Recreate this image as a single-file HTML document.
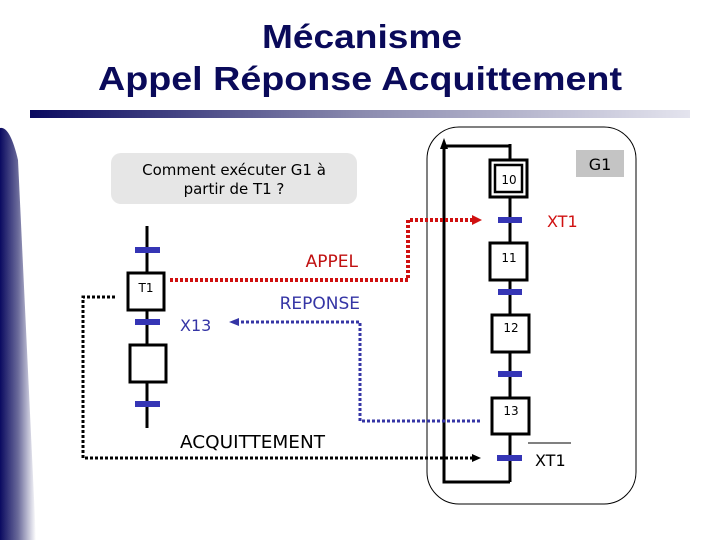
<!DOCTYPE html>
<html><head><meta charset="utf-8"><style>
body{margin:0;background:#fff}
svg{display:block}
text{font-family:"DejaVu Sans","Liberation Sans",sans-serif}
</style></head><body>
<svg width="720" height="540" viewBox="0 0 720 540" xmlns="http://www.w3.org/2000/svg">
<defs>
<linearGradient id="bar" x1="0" x2="1" y1="0" y2="0"><stop offset="0" stop-color="#0a0a60"/><stop offset="0.5" stop-color="#8a8aae"/><stop offset="1" stop-color="#e4e4ee"/></linearGradient>
<linearGradient id="side" x1="0" x2="1" y1="0" y2="0"><stop offset="0" stop-color="#0a0a60"/><stop offset="0.5" stop-color="#6a6a9a"/><stop offset="1" stop-color="#ffffff"/></linearGradient>
</defs>
<rect width="720" height="540" fill="#fff"/>
<text x="362" y="48" text-anchor="middle" font-size="33" font-weight="bold" fill="#0a0a5a" style="font-family:'Liberation Sans',sans-serif" textLength="200" lengthAdjust="spacingAndGlyphs">Mécanisme</text>
<text x="360" y="90" text-anchor="middle" font-size="33" font-weight="bold" fill="#0a0a5a" style="font-family:'Liberation Sans',sans-serif" textLength="524" lengthAdjust="spacingAndGlyphs">Appel Réponse Acquittement</text>
<rect x="30" y="110" width="660" height="8" fill="url(#bar)"/>
<path d="M0 128 Q10 126 18 160 L36 540 L0 540 Z" fill="url(#side)"/>
<rect x="111" y="153" width="246" height="51" rx="10" fill="#e6e6e6"/>
<text x="234" y="175" text-anchor="middle" font-size="15" fill="#000">Comment exécuter G1 à</text>
<text x="234" y="194" text-anchor="middle" font-size="15" fill="#000">partir de T1 ?</text>
<line x1="147" y1="226" x2="147" y2="428" stroke="#000" stroke-width="3"/>
<rect x="128" y="273" width="36" height="37" fill="#fff" stroke="#000" stroke-width="3"/>
<text x="146" y="292" text-anchor="middle" font-size="12">T1</text>
<rect x="130" y="345" width="36" height="37" fill="#fff" stroke="#000" stroke-width="3"/>
<g fill="#3535b5"><rect x="135" y="247" width="25" height="6"/><rect x="135" y="319" width="25" height="6"/><rect x="135" y="401" width="25" height="6"/></g>
<rect x="427" y="127" width="209" height="377" rx="32" fill="none" stroke="#000" stroke-width="1"/>
<rect x="576" y="150" width="48" height="27" fill="#c4c4c4"/>
<text x="600" y="170" text-anchor="middle" font-size="16">G1</text>
<line x1="510" y1="144" x2="510" y2="482" stroke="#000" stroke-width="3"/>
<polyline points="510,482 444,482 444,146 510,146" fill="none" stroke="#000" stroke-width="3"/>
<polygon points="444,138 440,149 448,149" fill="#000"/>
<rect x="490" y="160" width="37" height="37" fill="#fff" stroke="#000" stroke-width="3"/>
<rect x="495" y="165" width="27" height="27" fill="none" stroke="#000" stroke-width="2.5"/>
<text x="509" y="184" text-anchor="middle" font-size="12">10</text>
<rect x="490" y="243" width="37" height="37" fill="#fff" stroke="#000" stroke-width="3"/>
<text x="509" y="262" text-anchor="middle" font-size="12">11</text>
<rect x="492" y="315" width="37" height="37" fill="#fff" stroke="#000" stroke-width="3"/>
<text x="511" y="332" text-anchor="middle" font-size="12">12</text>
<rect x="492" y="398" width="37" height="36" fill="#fff" stroke="#000" stroke-width="3"/>
<text x="511" y="415" text-anchor="middle" font-size="12">13</text>
<g fill="#3535b5"><rect x="498" y="217" width="24" height="6"/><rect x="498" y="289" width="24" height="6"/><rect x="498" y="371" width="24" height="6"/><rect x="497" y="455" width="25" height="6"/></g>
<text x="547" y="227" font-size="16" fill="#d01010">XT1</text>
<text x="535" y="466" font-size="16">XT1</text>
<line x1="528" y1="443" x2="571" y2="443" stroke="#000" stroke-width="1"/>
<polyline points="170,280 408,280 408,220 474,220" fill="none" stroke="#d01010" stroke-width="4" stroke-dasharray="3,2"/>
<polygon points="482,220 472,215 472,225" fill="#d01010"/>
<polyline points="480,421 360,421 360,322 238,322" fill="none" stroke="#3535a5" stroke-width="3" stroke-dasharray="3,2"/>
<polygon points="229,322 239,318 239,326" fill="#3535a5"/>
<polyline points="115,297 83,297 83,458 472,458" fill="none" stroke="#000" stroke-width="3" stroke-dasharray="3,2"/>
<polygon points="481,458 472,454 472,462" fill="#000"/>
<text x="358" y="267" text-anchor="end" font-size="17" fill="#c01010">APPEL</text>
<text x="360" y="309" text-anchor="end" font-size="17" fill="#3535a5">REPONSE</text>
<text x="180" y="331" font-size="16" fill="#3535a5">X13</text>
<text x="180" y="448" font-size="18" fill="#000" textLength="145" lengthAdjust="spacingAndGlyphs">ACQUITTEMENT</text>
</svg>
</body></html>
